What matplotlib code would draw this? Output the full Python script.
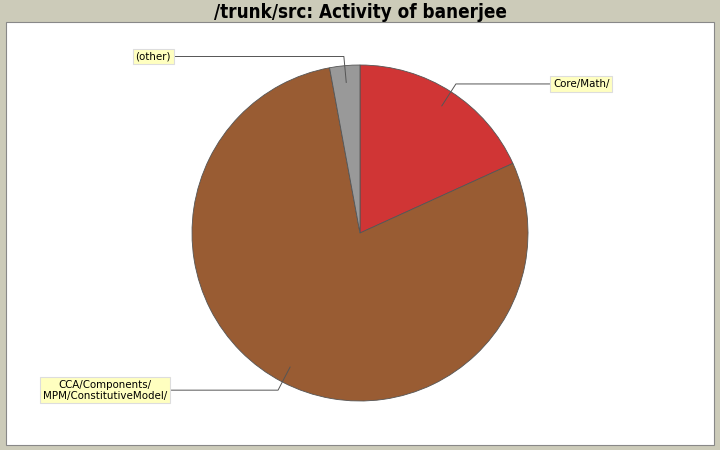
import numpy as np
import matplotlib.pyplot as plt

# share of activity per directory (percent)
labels = ["Core/Math/", "CCA/Components/\nMPM/ConstitutiveModel/", "(other)"]
values = [18.2, 78.9, 2.9]
colors = ["#d03535", "#995c33", "#999999"]

title = "/trunk/src: Activity of banerjee"

# label box anchor: (side, x of box edge in pixels)
label_side = [1, -1, -1]
label_x = [550, 170, 174]

W, H = 720, 450
cx, cy, R = 360, H - 233, 168

fig = plt.figure(figsize=(7.2, 4.5), dpi=100)
fig.patch.set_facecolor("#cccbb9")
ax = fig.add_axes([0, 0, 1, 1])

wedges, _ = ax.pie(
    values,
    colors=colors,
    startangle=90,
    counterclock=False,
    center=(cx, cy),
    radius=R,
    wedgeprops=dict(edgecolor="#555555", linewidth=0.6),
    frame=True,
)

ax.set_xlim(0, W)
ax.set_ylim(0, H)
ax.set_aspect("equal", adjustable="box")
ax.set_xticks([])
ax.set_yticks([])
for s in ax.spines.values():
    s.set_visible(False)
ax.set_facecolor("none")

# white plot area
ax.add_patch(plt.Rectangle((6, H - 445), 708, 423, facecolor="white",
                           edgecolor="#888888", linewidth=0.8, zorder=0))

for w, lab, side, lx in zip(wedges, labels, label_side, label_x):
    mid = np.deg2rad((w.theta1 + w.theta2) / 2)
    x0, y0 = cx + 0.9 * R * np.cos(mid), cy + 0.9 * R * np.sin(mid)
    x1, y1 = cx + 1.055 * R * np.cos(mid), cy + 1.055 * R * np.sin(mid)
    ax.plot([x0, x1, lx], [y0, y1, y1], color="#555555", linewidth=0.7, zorder=5)
    ax.text(lx + side * 3, y1, lab, ha="left" if side > 0 else "right",
            va="center", fontsize=7.4, multialignment="center", zorder=6,
            linespacing=1.1,
            bbox=dict(boxstyle="square,pad=0.25", facecolor="#ffffc0",
                      edgecolor="#dddddd", linewidth=0.8))

fig.text(0.5, 1 - 12 / H, title, ha="center", va="center", fontsize=13.5,
         fontweight="bold", fontstretch="condensed")

fig.savefig("out.png", dpi=100, facecolor=fig.get_facecolor())
